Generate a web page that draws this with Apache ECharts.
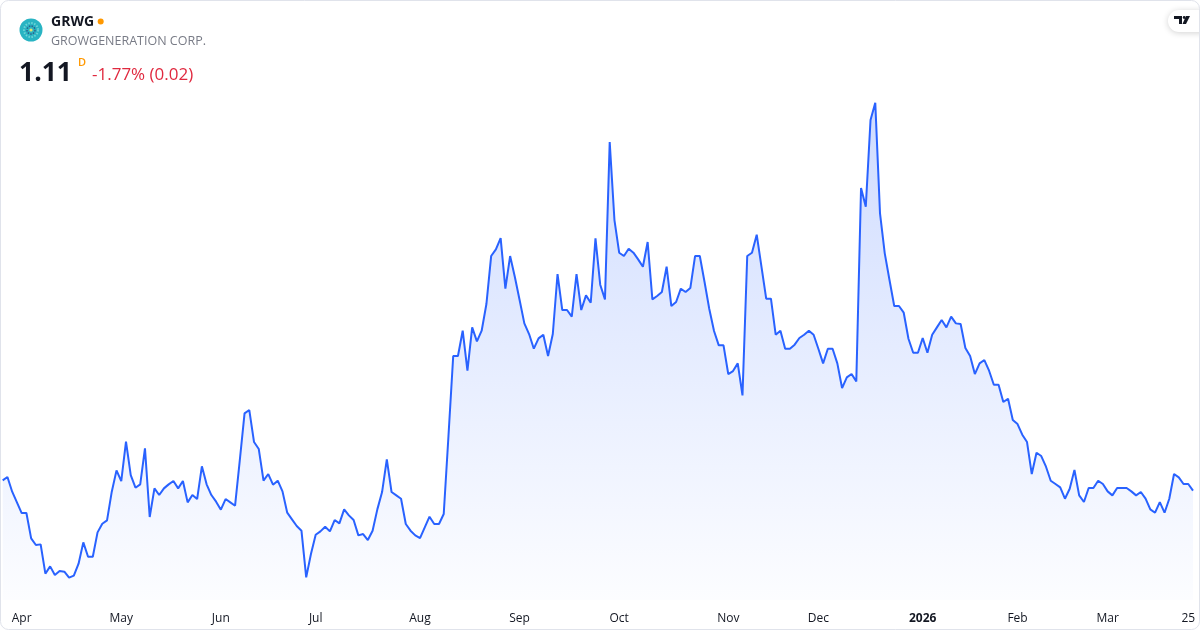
<!DOCTYPE html>
<html>
<head>
<meta charset="utf-8">
<script src="https://cdn.jsdelivr.net/npm/echarts@6/dist/echarts.min.js"></script>
<style>
html,body{margin:0;padding:0;background:#fff;}
#chart{width:1200px;height:630px;}
</style>
</head>
<body>
<div id="chart"></div>
<script>
// ---- Data ----
const ticker = 'GRWG';
const companyName = 'GROWGENERATION CORP.';
const lastPrice = '1.11';
const changeText = '-1.77% (0.02)';
const intervalText = 'D';

// Trading calendar (NYSE) used for categories
const firstDay = '2025-03-26';
const lastDay = '2026-03-26';
const marketHolidays = ['2025-04-18','2025-05-26','2025-06-19','2025-07-04','2025-09-01',
  '2025-11-27','2025-12-25','2026-01-01','2026-01-19','2026-02-16'];
const monthNames = ['Jan','Feb','Mar','Apr','May','Jun','Jul','Aug','Sep','Oct','Nov','Dec'];
const lastTickDate = '2026-03-25';
const lastTickLabel = '25';

// Daily close values, one per trading day
const closeMarApr = [1.141,1.151,1.107,1.075,1.043,1.043,0.967,0.947,0.949,0.861,0.883,0.857,0.869,0.867,0.849,0.855,0.891,0.955,0.912,0.912,0.985,1.011,1.021,1.107,1.171];
const closeMayJun = [1.139,1.257,1.157,1.119,1.129,1.237,1.031,1.117,1.097,1.117,1.129,1.139,1.117,1.139,1.075,1.097,1.085,1.183,1.129,1.097,1.077,1.053,1.085,1.075,1.065,1.202,1.342,1.352,1.256,1.235,1.140,1.160,1.128,1.140,1.108,1.044,1.024,1.004,0.990];
const closeJulAug = [0.850,0.920,0.978,0.988,1.002,0.988,1.022,1.012,1.054,1.036,1.022,0.976,0.980,0.962,0.990,1.054,1.106,1.204,1.106,1.096,1.086,1.010,0.990,0.976,0.968,1.000,1.032,1.010,1.010,1.040,1.274,1.514,1.514,1.590,1.470,1.600,1.558,1.590,1.670,1.814,1.834,1.868,1.716];
const closeSepOct = [1.814,1.751,1.682,1.612,1.580,1.536,1.567,1.578,1.514,1.580,1.760,1.652,1.652,1.632,1.760,1.652,1.696,1.674,1.867,1.728,1.684,2.156,1.922,1.824,1.814,1.836,1.824,1.804,1.782,1.856,1.684,1.694,1.706,1.782,1.664,1.676,1.716,1.706,1.718,1.814,1.814,1.736,1.655];
const closeNovDec = [1.589,1.546,1.546,1.460,1.469,1.492,1.396,1.814,1.824,1.878,1.782,1.686,1.686,1.578,1.590,1.536,1.536,1.548,1.568,1.578,1.590,1.578,1.536,1.492,1.536,1.536,1.492,1.418,1.450,1.460,1.438,2.018,1.962,2.222,2.274,1.942,1.822,1.742,1.664,1.664,1.644];
const closeJanMar = [1.566,1.524,1.524,1.568,1.524,1.578,1.600,1.622,1.600,1.632,1.612,1.610,1.538,1.514,1.460,1.492,1.502,1.470,1.428,1.428,1.376,1.386,1.322,1.310,1.278,1.256,1.160,1.224,1.214,1.182,1.140,1.130,1.120,1.086,1.116,1.172,1.096,1.076,1.118,1.118,1.140,1.130,1.108,1.096,1.118,1.118,1.118,1.108,1.096,1.106,1.086,1.054,1.044,1.076,1.044,1.086,1.160,1.150,1.130,1.130,1.110];

// ---- Build ----
function tradingDays(start, end, holidays) {
  const out = [];
  const d = new Date(start + 'T00:00:00Z');
  const e = new Date(end + 'T00:00:00Z');
  while (d <= e) {
    const wd = d.getUTCDay();
    const s = d.toISOString().slice(0, 10);
    if (wd !== 0 && wd !== 6 && holidays.indexOf(s) < 0) out.push(s);
    d.setUTCDate(d.getUTCDate() + 1);
  }
  return out;
}
const dates = tradingDays(firstDay, lastDay, marketHolidays);
const closes = [].concat(closeMarApr, closeMayJun, closeJulAug, closeSepOct, closeNovDec, closeJanMar);

const FONT = '"Open Sans", "Noto Sans", sans-serif';
const chart = echarts.init(document.getElementById('chart'), null, {renderer: 'canvas'});

function showLabel(idx, val) {
  if (val === lastTickDate) return true;
  if (idx === 0) return false;
  return val.slice(0, 7) !== dates[idx - 1].slice(0, 7);
}

const option = {
  backgroundColor: '#ffffff',
  animation: false,
  grid: {left: 2.7, right: 7, top: 90, bottom: 30, containLabel: false},
  xAxis: {
    type: 'category',
    data: dates,
    boundaryGap: false,
    axisLine: {show: false},
    axisTick: {show: false},
    splitLine: {show: false},
    axisLabel: {
      interval: showLabel,
      margin: 13,
      color: '#131722',
      fontFamily: FONT,
      fontSize: 12,
      hideOverlap: false,
      formatter: function (val) {
        if (val === lastTickDate) return lastTickLabel;
        const m = +val.slice(5, 7);
        if (m === 1) return '{y|' + val.slice(0, 4) + '}';
        return monthNames[m - 1];
      },
      rich: {y: {fontWeight: 'bold', color: '#131722', fontFamily: FONT, fontSize: 12}}
    }
  },
  yAxis: {
    type: 'value',
    min: 0.7821,
    max: 2.3121,
    show: false,
    splitLine: {show: false}
  },
  series: [{
    type: 'line',
    data: closes,
    showSymbol: false,
    symbol: 'none',
    smooth: false,
    lineStyle: {color: '#2962FF', width: 2},
    itemStyle: {color: '#2962FF'},
    areaStyle: {
      color: new echarts.graphic.LinearGradient(0, 0, 0, 1, [
        {offset: 0, color: 'rgba(41,98,255,0.32)'},
        {offset: 1, color: 'rgba(41,98,255,0.02)'}
      ])
    }
  }],
  graphic: [
    // card border
    {type: 'rect', shape: {x: 0.5, y: 0.5, width: 1199, height: 629, r: 8},
     style: {fill: null, stroke: '#E0E3EB', lineWidth: 1}, z: 100, silent: true},
    // logo
    {type: 'circle', shape: {cx: 31, cy: 30, r: 11.5}, style: {fill: '#29B4C3'}, z: 10},
    {type: 'circle', shape: {cx: 31, cy: 30, r: 7}, style: {fill: null, stroke: '#6CD3D6', lineWidth: 2, lineDash: [1.5, 1.5]}, z: 11},
    {type: 'circle', shape: {cx: 31, cy: 30, r: 4}, style: {fill: null, stroke: '#2D5E8C', lineWidth: 1.5, lineDash: [1.5, 1.2]}, z: 11},
    {type: 'circle', shape: {cx: 31, cy: 30, r: 1.6}, style: {fill: '#E7E36B'}, z: 12},
    {type: 'text', left: 51, top: 15, style: {text: ticker, font: 'bold 14px ' + FONT, fill: '#131722'}, z: 10},
    {type: 'circle', shape: {cx: 100.7, cy: 21.5, r: 3}, style: {fill: '#FF9800'}, z: 10},
    {type: 'text', left: 51, top: 35, style: {text: companyName, font: '12.5px ' + FONT, fill: '#787B86'}, z: 10},
    {type: 'text', left: 19, top: 60, style: {text: lastPrice, font: 'bold 26.5px ' + FONT, fill: '#131722'}, z: 10},
    {type: 'text', left: 78, top: 57, style: {text: intervalText, font: '600 11px ' + FONT, fill: '#FF9800'}, z: 10},
    {type: 'text', left: 92, top: 67, style: {text: changeText, font: '17px ' + FONT, fill: '#E0293F'}, z: 10},
    // TradingView badge
    {type: 'rect', shape: {x: 1168, y: 10, width: 44, height: 22, r: 11},
     style: {fill: '#ffffff', shadowBlur: 6, shadowColor: 'rgba(0,0,0,0.18)', shadowOffsetY: 1}, z: 20},
    {type: 'polygon', shape: {points: [[1174,16],[1182,16],[1182,24],[1179,24],[1179,19],[1174,19]]}, style: {fill: '#131722'}, z: 21},
    {type: 'polygon', shape: {points: [[1186,16],[1190,16],[1186,24],[1182.5,24]]}, style: {fill: '#131722'}, z: 21},
    {type: 'circle', shape: {cx: 1184.2, cy: 17.5, r: 1.4}, style: {fill: '#131722'}, z: 21}
  ]
};
chart.setOption(option);
</script>
</body>
</html>
